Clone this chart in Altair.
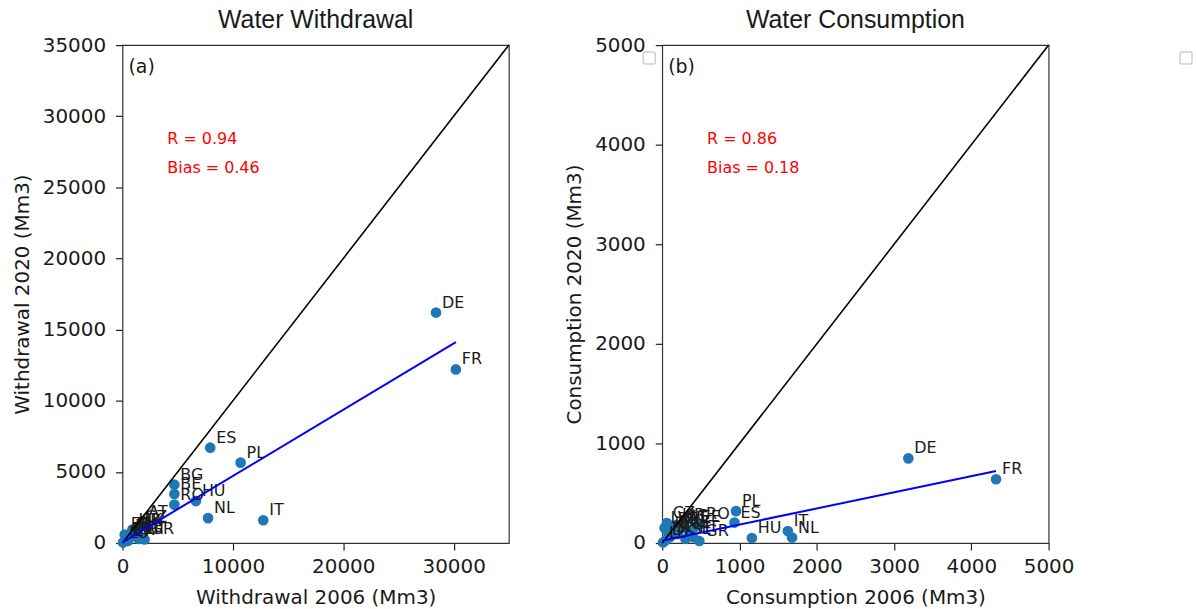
import altair as alt
import pandas as pd

countries = ["DE", "FR", "ES", "PL", "BG", "BE", "RO", "HU", "NL", "IT",
             "AT", "CZ", "SK", "SI", "FI", "SE", "DK", "PT", "GR", "IE",
             "LT", "LV", "EE", "LU", "HR"]
withdrawal_2006 = [28400, 30200, 7950, 10700, 4700, 4700, 4700, 6650, 7750, 12750,
                   1800, 1500, 1200, 800, 600, 1300, 300, 1700, 2000, 400,
                   1500, 500, 200, 50, 900]
withdrawal_2020 = [16200, 12200, 6700, 5650, 4100, 3450, 2700, 2950, 1750, 1600,
                   1500, 1100, 900, 700, 500, 400, 200, 300, 250, 300,
                   280, 150, 600, 30, 950]
consumption_2006 = [3185, 4320, 935, 955, 230, 120, 490, 1160, 1680, 1625,
                    250, 60, 150, 100, 200, 300, 50, 400, 480, 80,
                    350, 30, 420, 10, 180]
consumption_2020 = [850, 640, 205, 320, 170, 140, 190, 50, 55, 120,
                    150, 200, 120, 60, 90, 40, 30, 60, 20, 100,
                    110, 150, 160, 5, 180]

# fitted regression lines (slope, intercept) and statistics
withdrawal_fit = (0.466, 50)
consumption_fit = (0.162, 23)
withdrawal_stats = ("R = 0.94", "Bias = 0.46")
consumption_stats = ("R = 0.86", "Bias = 0.18")

withdrawal_ticks = [0, 10000, 20000, 30000]
withdrawal_yticks = [0, 5000, 10000, 15000, 20000, 25000, 30000, 35000]
consumption_ticks = [0, 1000, 2000, 3000, 4000, 5000]

df = pd.DataFrame({
    "country": countries,
    "w06": withdrawal_2006, "w20": withdrawal_2020,
    "c06": consumption_2006, "c20": consumption_2020,
})

W, H = 388, 500
TXT = "#1a1a1a"


def panel(xcol, ycol, maxv, xticks, yticks, title, xtitle, ytitle, tag,
          stats, fit, squares):
    xs = alt.Scale(domain=[0, maxv], nice=False, zero=False)
    ys = alt.Scale(domain=[0, maxv], nice=False, zero=False)
    xax = alt.Axis(values=xticks, title=xtitle, format="d", titlePadding=11)
    yax = alt.Axis(values=yticks, title=ytitle, format="d", labelPadding=10,
                   titlePadding=10)

    def X(f):
        return alt.X(f, type="quantitative", scale=xs, axis=xax, title=xtitle)

    def Y(f):
        return alt.Y(f, type="quantitative", scale=ys, axis=yax, title=ytitle)

    base = alt.Chart(df)
    pts = base.mark_circle(size=115, color="#1f77b4", opacity=1).encode(
        x=X(xcol), y=Y(ycol))
    labels = base.mark_text(align="left", baseline="alphabetic", dx=6, dy=-5,
                            fontSize=16, font="DejaVu Sans", color=TXT).encode(
        x=X(xcol), y=Y(ycol), text="country:N")

    xmax = float(df[xcol].max())
    ident = alt.Chart(pd.DataFrame({"a": [0, maxv], "b": [0, maxv]})).mark_line(
        color="black", strokeWidth=1.6).encode(x=X("a"), y=Y("b"))
    slope, icpt = fit
    fitdf = pd.DataFrame({"a": [0.0, xmax], "b": [icpt, icpt + slope * xmax]})
    fitline = alt.Chart(fitdf).mark_line(color="#0000ff", strokeWidth=2).encode(
        x=X("a"), y=Y("b"))

    one = pd.DataFrame({"k": [0]})
    r_txt = alt.Chart(one).mark_text(align="left", baseline="alphabetic",
                                     fontSize=16, font="DejaVu Sans",
                                     color="#ff0000", text=stats[0]).encode(
        x=alt.value(45), y=alt.value(99))
    b_txt = alt.Chart(one).mark_text(align="left", baseline="alphabetic",
                                     fontSize=16, font="DejaVu Sans",
                                     color="#ff0000", text=stats[1]).encode(
        x=alt.value(45), y=alt.value(128))
    tag_txt = alt.Chart(one).mark_text(align="left", baseline="alphabetic",
                                       fontSize=19, font="DejaVu Sans",
                                       color=TXT, text=tag).encode(
        x=alt.value(6), y=alt.value(28))
    layers = [pts, labels, ident, fitline, r_txt, b_txt, tag_txt]
    for sx in squares:
        sq = alt.Chart(one).mark_rect(fill="white", stroke="#cfcfcf",
                                      strokeWidth=1.5, cornerRadius=2).encode(
            x=alt.value(sx), x2=alt.value(sx + 12),
            y=alt.value(7), y2=alt.value(19))
        layers.append(sq)
    return alt.layer(*layers).properties(
        width=W, height=H,
        title=alt.TitleParams(title, font="Liberation Sans", fontSize=25,
                              fontWeight="normal", color=TXT, anchor="middle",
                              offset=2))


left = panel("w06", "w20", 35000, withdrawal_ticks, withdrawal_yticks,
             "Water Withdrawal", "Withdrawal 2006 (Mm3)",
             "Withdrawal 2020 (Mm3)", "(a)", withdrawal_stats, withdrawal_fit, [])
right = panel("c06", "c20", 5000, consumption_ticks, consumption_ticks,
              "Water Consumption", "Consumption 2006 (Mm3)",
              "Consumption 2020 (Mm3)", "(b)", consumption_stats,
              consumption_fit, [-19, 520])

chart = alt.hconcat(left, right, spacing=51).properties(
    padding={"left": 11, "top": 6, "right": 2, "bottom": 2}
).configure_view(stroke="#333333", strokeWidth=1.2).configure_axis(
    domain=False, grid=False, tickColor="#222222", tickSize=7, tickWidth=1.2,
    labelFont="DejaVu Sans", labelFontSize=20, labelColor=TXT, labelPadding=7,
    titleFont="DejaVu Sans", titleFontSize=20, titleFontWeight="normal",
    titleColor=TXT, labelFlush=False, labelOverlap=False
)

chart.save("out.html", embed_options={"renderer": "svg", "actions": False})
